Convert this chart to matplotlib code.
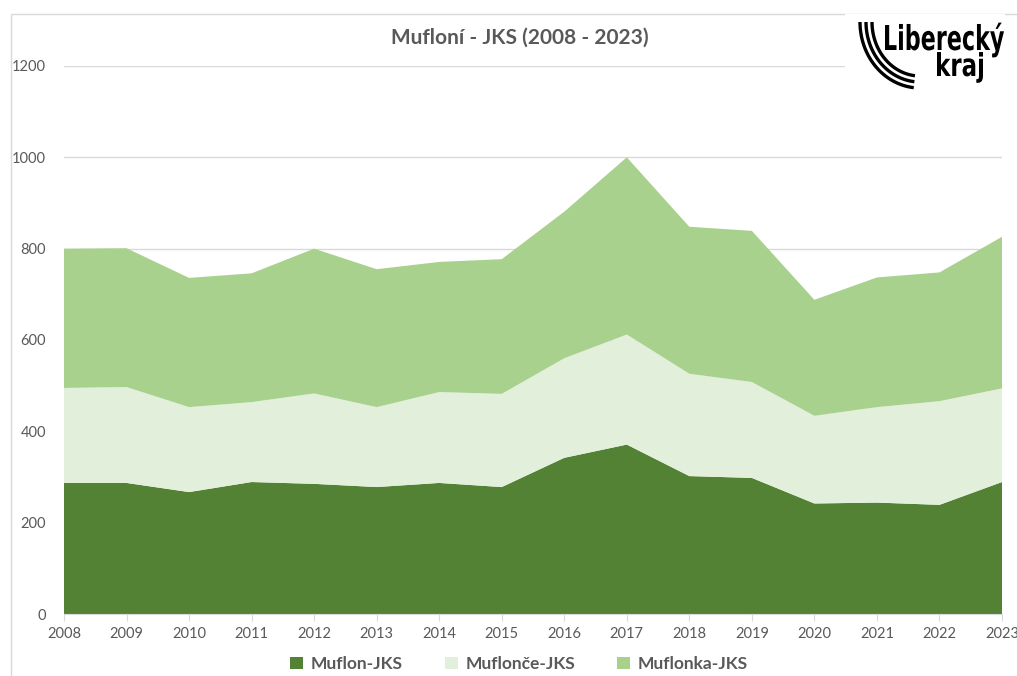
import numpy as np
import matplotlib.pyplot as plt
from matplotlib.patches import Patch, Rectangle, PathPatch
from matplotlib.textpath import TextPath
from matplotlib.font_manager import FontProperties
from matplotlib.transforms import Affine2D

# ================= DATA =================
years = [2008, 2009, 2010, 2011, 2012, 2013, 2014, 2015,
         2016, 2017, 2018, 2019, 2020, 2021, 2022, 2023]
muflon = [287, 287, 267, 289, 285, 278, 287, 278,
          342, 371, 302, 298, 242, 244, 239, 289]
muflonce = [208, 210, 186, 175, 198, 175, 199, 204,
            218, 241, 224, 210, 192, 209, 227, 205]
muflonka = [305, 304, 283, 282, 317, 302, 285, 295,
            321, 388, 322, 331, 254, 284, 282, 332]
series_names = ["Muflon-JKS", "Muflonče-JKS", "Muflonka-JKS"]
colors = ["#548235", "#E2EFDA", "#A9D18E"]

txt = "#595959"
plt.rcParams["font.family"] = ["Lato", "DejaVu Sans"]

W, H = 1017, 676
fig = plt.figure(figsize=(W / 100, H / 100), dpi=100)

# chart border
fig.patches.append(Rectangle((11 / W, -0.1), 1.2, 1 - 14 / H + 0.1,
                             transform=fig.transFigure, fill=False,
                             edgecolor="#D9D9D9", linewidth=1))

ax = fig.add_axes([64 / W, 1 - 614 / H, (1002 - 64) / W, (614 - 66) / H])
ax.stackplot(years, muflon, muflonce, muflonka, colors=colors,
             linewidth=0, zorder=2)

ax.set_xlim(2008, 2023)
ax.set_ylim(0, 1200)
ax.set_yticks(range(0, 1201, 200))
ax.set_xticks(years)
ax.grid(axis="y", color="#D9D9D9", linewidth=1, zorder=0)
for s in ["top", "right", "left"]:
    ax.spines[s].set_visible(False)
ax.spines["bottom"].set_color("#D9D9D9")
ax.spines["bottom"].set_zorder(3)
ax.tick_params(axis="y", length=0, pad=13, labelsize=10.5, labelcolor=txt)
ax.tick_params(axis="x", length=5, color="#D9D9D9", pad=4,
               labelsize=10.5, labelcolor=txt)
for lbl in ax.get_xticklabels():
    lbl.set_clip_on(False)

# ================= TITLE =================
fig.text(520 / W, 1 - 38 / H, "Mufloní - JKS (2008 - 2023)", ha="center",
         va="center", fontsize=15, fontweight="bold", color=txt)

# ================= LEGEND =================
handles = [Patch(facecolor=c, edgecolor="none") for c in colors]
fig.legend(handles, series_names, loc="center", ncol=3,
           bbox_to_anchor=(519 / W, 1 - 664 / H), frameon=False,
           prop={"size": 12.5, "weight": "bold"}, labelcolor=txt,
           handlelength=0.75, handleheight=0.75, handletextpad=0.45,
           columnspacing=2.4)

# ================= LOGO =================
fig.patches.append(Rectangle((845 / W, 1 - 98 / H), 160 / W, 84 / H,
                             transform=fig.transFigure, facecolor="white",
                             edgecolor="none", zorder=5))
th = np.linspace(0, np.radians(84), 60)
for rx, ry in [(60, 66), (54, 60), (48, 54)]:
    x = 920 - rx * np.cos(th)
    y = 22 + ry * np.sin(th)
    fig.lines.append(plt.Line2D(x / W, 1 - y / H, transform=fig.transFigure,
                                color="black", linewidth=2.4, zorder=6,
                                solid_capstyle="butt"))

fp = FontProperties(family="DejaVu Sans", weight="bold")


def logo_word(word, left, right, baseline, cap_px):
    tp = TextPath((0, 0), word, size=1, prop=fp)
    ext = tp.get_extents()
    sx = (right - left) / ext.width
    sy = cap_px / 0.73
    tr = Affine2D().translate(-ext.x0, 0).scale(sx, sy).translate(left, H - baseline)
    fig.patches.append(PathPatch(tr.transform_path(tp), facecolor="black",
                                 edgecolor="none", transform=None, zorder=7))


logo_word("Liberecký", 885, 1004, 50, 25)
logo_word("kraj", 937, 983, 76, 23)

fig.savefig("out.png", dpi=100)
